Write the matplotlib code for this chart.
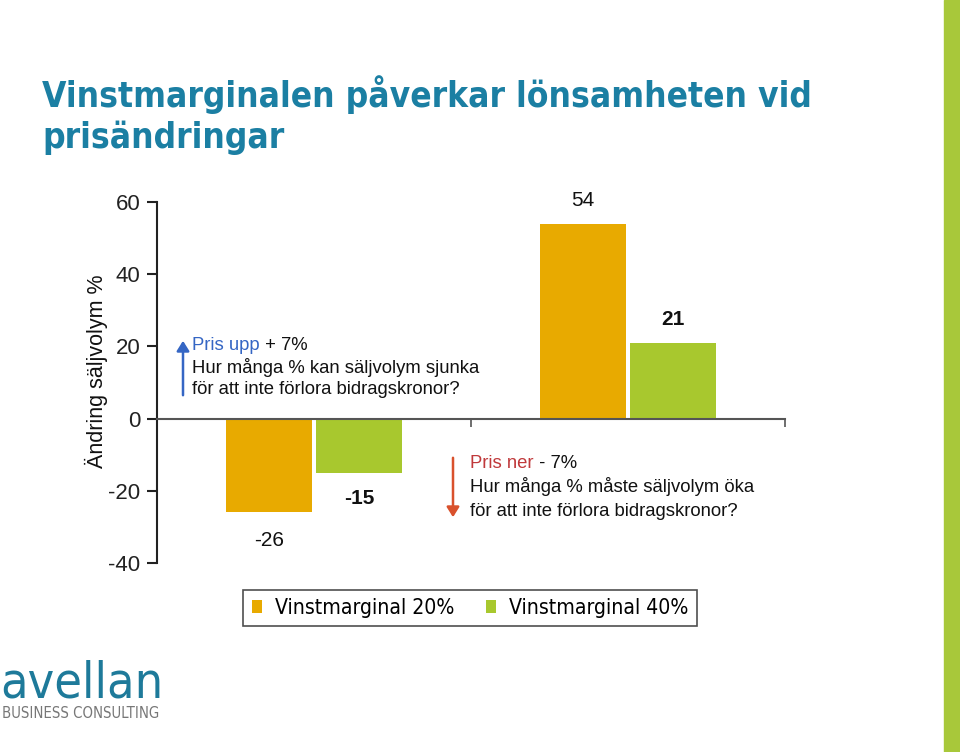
import matplotlib
matplotlib.use("Agg")
import matplotlib.pyplot as plt
import numpy as np
from matplotlib.patches import Rectangle, FancyArrowPatch
from matplotlib import font_manager as fm

categories = ["Pris upp + 7%", "Pris ner - 7%"]
series_names = ["Vinstmarginal 20%", "Vinstmarginal 40%"]
margin20 = [-26, 54]
margin40 = [-15, 21]
yticks = [-40, -20, 0, 20, 40, 60]

C_OR = "#E8AA00"
C_GR = "#A8C82E"
TEAL = "#1B7FA3"

SANS = ["Liberation Sans", "DejaVu Sans"]

def cond(size, weight="normal"):
    return fm.FontProperties(family="DejaVu Sans", stretch="condensed", size=size, weight=weight)

fig = plt.figure(figsize=(9.6, 7.52), dpi=100)
ax = fig.add_axes([157/960, 1-563/752, (785-157)/960, (563-202)/752])

x = np.arange(len(categories))
w = 0.273
off = 0.143
b1 = ax.bar(x - off, margin20, w, color=C_OR, label=series_names[0])
b2 = ax.bar(x + off, margin40, w, color=C_GR, label=series_names[1])

ax.set_xlim(-0.5, 1.5)
ax.set_ylim(-40, 60)
ax.set_yticks(yticks)
ax.set_yticklabels([str(v) for v in yticks], fontsize=16, family=SANS)
ax.set_xticks([0.5, 1.5])
ax.set_xticklabels([])
for s in ["top", "right"]:
    ax.spines[s].set_visible(False)
ax.spines["bottom"].set_position(("data", 0))
ax.spines["bottom"].set_color("#555555")
ax.spines["bottom"].set_linewidth(1.5)
ax.spines["left"].set_color("#222222")
ax.spines["left"].set_linewidth(1.5)
ax.tick_params(axis="y", length=7, width=1.5, pad=5, colors="#222222")
ax.tick_params(axis="x", length=6, width=1.2, colors="#555555", direction="out")

# value labels
for i, v in enumerate(margin20):
    if v >= 0:
        ax.annotate(str(v), (x[i]-off, v), xytext=(0, 10), textcoords="offset points",
                    ha="center", va="bottom", fontsize=15, family=SANS, color="#111111")
    else:
        ax.annotate(str(v), (x[i]-off, v), xytext=(0, -13), textcoords="offset points",
                    ha="center", va="top", fontsize=15, family=SANS, color="#111111")
for i, v in enumerate(margin40):
    if v >= 0:
        ax.annotate(str(v), (x[i]+off, v), xytext=(0, 10), textcoords="offset points",
                    ha="center", va="bottom", fontsize=15, family=SANS,
                    fontweight="bold", color="#111111")
    else:
        ax.annotate(str(v), (x[i]+off, v), xytext=(0, -12), textcoords="offset points",
                    ha="center", va="top", fontsize=15, family=SANS,
                    fontweight="bold", color="#111111")

def fx(px):
    return px/960
def fy(py):
    return 1-py/752

fig.text(fx(96), fy(371), "Ändring säljvolym %", fontsize=15.5, family=SANS,
         rotation=90, ha="center", va="center", color="#111111")

fs = 13.3
t1 = fig.text(fx(192), fy(346), "Pris upp", color="#3566C4", fontsize=fs, family=SANS, va="center")
ax.annotate(" + 7%", xy=(1, 0.5), xycoords=t1, va="center", ha="left",
            fontsize=fs, family=SANS, color="#111111")
fig.text(fx(192), fy(368), "Hur många % kan säljvolym sjunka", fontsize=fs, family=SANS,
         color="#111111", va="center")
fig.text(fx(192), fy(390), "för att inte förlora bidragskronor?", fontsize=fs, family=SANS,
         color="#111111", va="center")
fig.add_artist(FancyArrowPatch((fx(183), fy(398)), (fx(183), fy(338)),
               transform=fig.transFigure, arrowstyle="-|>,head_length=4,head_width=2.5",
               color="#3566C4", lw=1.8, mutation_scale=1.5))

t2 = fig.text(fx(470), fy(463), "Pris ner", color="#C0393B", fontsize=fs, family=SANS, va="center")
ax.annotate(" - 7%", xy=(1, 0.5), xycoords=t2, va="center", ha="left",
            fontsize=fs, family=SANS, color="#111111")
fig.text(fx(470), fy(487), "Hur många % måste säljvolym öka", fontsize=fs, family=SANS,
         color="#111111", va="center")
fig.text(fx(470), fy(511), "för att inte förlora bidragskronor?", fontsize=fs, family=SANS,
         color="#111111", va="center")
fig.add_artist(FancyArrowPatch((fx(453), fy(455)), (fx(453), fy(520)),
               transform=fig.transFigure, arrowstyle="-|>,head_length=4,head_width=2.5",
               color="#D9512C", lw=1.8, mutation_scale=1.5))

# legend
leg = fig.legend(handles=[b1, b2], labels=series_names, loc="center",
                 bbox_to_anchor=(fx(470), fy(608)), ncol=2, frameon=True,
                 fancybox=False, edgecolor="#222222", handlelength=0.5, handleheight=0.5,
                 handletextpad=0.6, columnspacing=1.5, borderpad=0.4,
                 prop=cond(15.2))
leg.get_frame().set_linewidth(1.2)

# title
fig.text(fx(42), fy(95), "Vinstmarginalen påverkar lönsamheten vid",
         fontproperties=cond(25.3, "bold"), color=TEAL, va="center")
fig.text(fx(42), fy(138), "prisändringar",
         fontproperties=cond(25.3, "bold"), color=TEAL, va="center")

# logo
fig.text(fx(0), fy(683), "avellan", fontproperties=cond(36), color="#1E7A9A",
         va="center", ha="left")
fig.text(fx(2), fy(713), "BUSINESS CONSULTING", fontproperties=cond(10.7), color="#777777",
         va="center", ha="left")

# right strip
fig.add_artist(Rectangle((944/960, 0), 16/960, 1, transform=fig.transFigure,
                         color="#A8C83A", zorder=0))

fig.savefig("out.png", dpi=100)
